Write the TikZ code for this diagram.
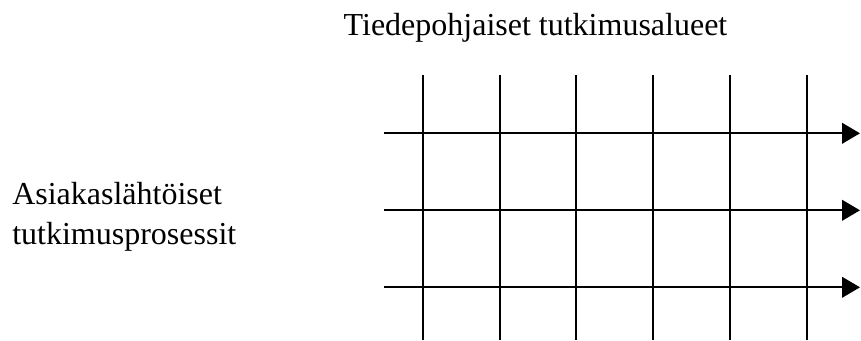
\documentclass[tikz,border=0pt]{standalone}
\usepackage{fontspec}
\setmainfont{Liberation Serif}
\usetikzlibrary{arrows.meta}

\begin{document}
\begin{tikzpicture}[x=0.75pt, y=-0.75pt, >={Triangle[length=13.5pt, width=15.5pt]},
  every node/.style={font=\fontsize{24}{30}\selectfont, inner sep=0pt},
  viiva/.style={line width=1.5pt, black}]

  \useasboundingbox (0,0) rectangle (861,340);

  % otsikot
  \node[anchor=base] (alueet) at (535.5,35) {Tiedepohjaiset tutkimusalueet};
  \node[anchor=base west] (prosA) at (12,204) {Asiakaslähtöiset};
  \node[anchor=base west] (prosB) at (12,244) {tutkimusprosessit};

  % pystyviivojen päät (tutkimusalueet)
  \coordinate (A1) at (422.7,75);  \coordinate (B1) at (422.7,340);
  \coordinate (A2) at (499.5,75);  \coordinate (B2) at (499.5,340);
  \coordinate (A3) at (576.3,75);  \coordinate (B3) at (576.3,340);
  \coordinate (A4) at (653.1,75);  \coordinate (B4) at (653.1,340);
  \coordinate (A5) at (729.9,75);  \coordinate (B5) at (729.9,340);
  \coordinate (A6) at (806.7,75);  \coordinate (B6) at (806.7,340);

  % nuolten päät (prosessit)
  \coordinate (P1) at (384,133.3); \coordinate (Q1) at (860,133.3);
  \coordinate (P2) at (384,210.3); \coordinate (Q2) at (860,210.3);
  \coordinate (P3) at (384,287.3); \coordinate (Q3) at (860,287.3);

  % pystyviivat
  \draw[viiva] (A1) -- (B1);
  \draw[viiva] (A2) -- (B2);
  \draw[viiva] (A3) -- (B3);
  \draw[viiva] (A4) -- (B4);
  \draw[viiva] (A5) -- (B5);
  \draw[viiva] (A6) -- (B6);

  % vaakanuolet
  \draw[viiva, ->] (P1) -- (Q1);
  \draw[viiva, ->] (P2) -- (Q2);
  \draw[viiva, ->] (P3) -- (Q3);

\end{tikzpicture}
\end{document}
